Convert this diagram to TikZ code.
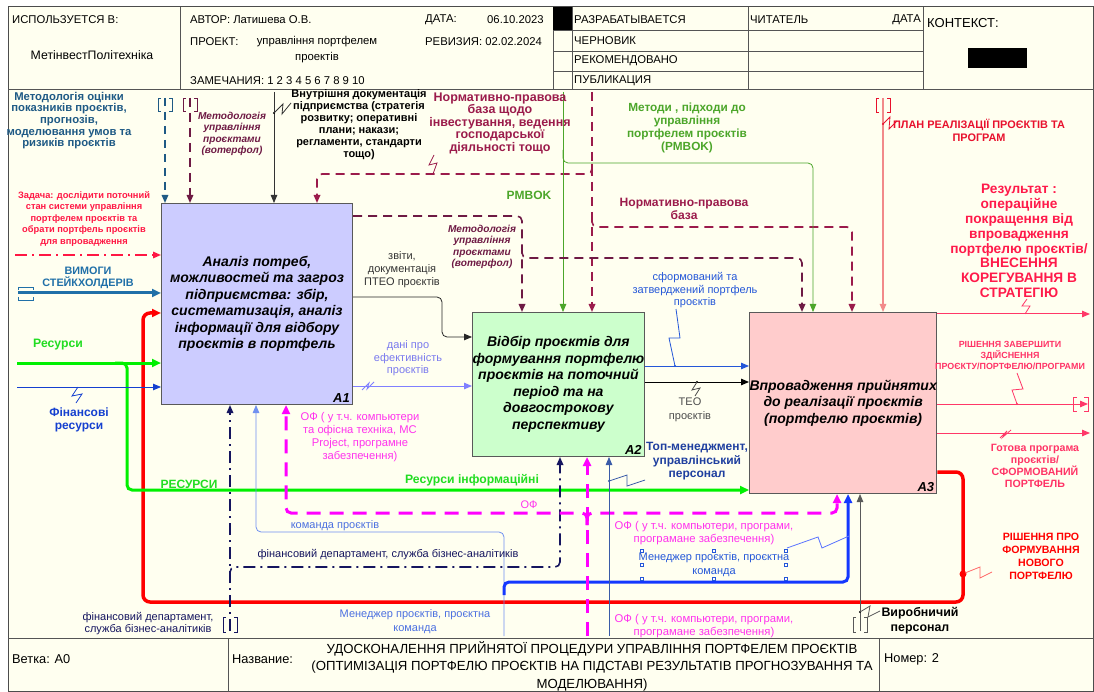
\documentclass[tikz,border=0pt]{standalone}
\usepackage{fontspec}
\setmainfont{Liberation Sans}
\usetikzlibrary{arrows.meta}
\newcommand\fsz[2]{\fontsize{#1}{#2}\selectfont}
\definecolor{cream}{HTML}{FFFFF0}
\definecolor{fillA}{HTML}{CCCCFF}
\definecolor{fillB}{HTML}{CCFFCC}
\definecolor{fillC}{HTML}{FFCCCC}
\definecolor{stb}{HTML}{1F5A85}
\definecolor{mar}{HTML}{6E1A44}
\definecolor{crim}{HTML}{9B1B4B}
\definecolor{grn}{HTML}{4CA62A}
\definecolor{salm}{HTML}{F28A8A}
\definecolor{planred}{HTML}{E8112D}
\definecolor{redt}{HTML}{FF1744}
\definecolor{stbl}{HTML}{2070A8}
\definecolor{lime}{HTML}{00F000}
\definecolor{limet}{HTML}{22DD22}
\definecolor{fblue}{HTML}{1540D0}
\definecolor{navy}{HTML}{15155F}
\definecolor{lblue}{HTML}{7090F0}
\definecolor{lbluet}{HTML}{4C70E0}
\definecolor{mag}{HTML}{FF00FF}
\definecolor{magt}{HTML}{FF33EE}
\definecolor{bthick}{HTML}{1438FF}
\definecolor{tmb}{HTML}{3A5BA8}
\definecolor{tmt}{HTML}{1F3F9F}
\definecolor{lpur}{HTML}{8080FF}
\definecolor{lpurt}{HTML}{7A7AEE}
\definecolor{sblue}{HTML}{2457D8}
\definecolor{pk}{HTML}{FF3868}
\definecolor{rest}{HTML}{FF1A4A}
\definecolor{pk2}{HTML}{FF3366}
\definecolor{rthick}{HTML}{FF0000}
\definecolor{hdl}{HTML}{555555}
\begin{document}
\begin{tikzpicture}[x=1pt,y=-1pt,
  ar/.style={-{Triangle[length=8pt,width=6.5pt]}},
  art/.style={-{Triangle[length=9pt,width=8pt]}},
  lb/.style={inner sep=0pt, align=center},
  hd/.style={inner sep=0pt, anchor=west, font=\fsz{11.3}{12}},
  ln/.style={line width=0.8pt},
  tk/.style={line width=3pt},
  dsh/.style={dash pattern=on 9pt off 6pt},
  ddt/.style={dash pattern=on 12pt off 5pt on 2pt off 5pt},
  mdsh/.style={dash pattern=on 14pt off 9pt},
  box/.style={draw=black!65, line width=1pt, anchor=north west, inner sep=0pt, align=center, font=\bfseries\itshape\fsz{14}{16.5}},
  bid/.style={inner sep=0pt, anchor=south east, font=\bfseries\itshape\fsz{13}{15}},
  gl/.style={hdl, line width=0.8pt},
  rc/.style={rounded corners=5pt},
  ft/.style={inner sep=0pt, anchor=west, font=\fsz{12.8}{14}},
]
\useasboundingbox (0,0) rectangle (1094,692);
\fill[white] (0,0) rectangle (1094,692);
\fill[cream] (8,7) rectangle (1094,692);
\draw[gray!60!black, line width=1pt] (8,7) rectangle (1093.5,691.5);

% ---------- header ----------
\draw[gl] (8,89) -- (1094,89);
\draw[gl] (180,7) -- (180,89);
\draw[gl] (553,7) -- (553,89);
\draw[gl] (572,7) -- (572,89);
\draw[gl] (748,7) -- (748,89);
\draw[gl] (923,7) -- (923,89);
\draw[gl] (553,30) -- (923,30);
\draw[gl] (553,51) -- (923,51);
\draw[gl] (553,71) -- (923,71);
\fill[black] (553,7) rectangle (572,30);
\node[hd] (h1) at (12,20) {ИСПОЛЬЗУЕТСЯ В:};
\node[lb, font=\fsz{12.3}{12}] (h2) at (92,55) {МетінвестПолітехніка};
\node[hd] (h3) at (190,20) {АВТОР: Латишева О.В.};
\node[hd] (h4) at (425,20) {ДАТА:};
\node[hd] (h5) at (487,20) {06.10.2023};
\node[hd] (h6) at (190,42) {ПРОЕКТ:};
\node[lb, font=\fsz{11.3}{16}] (h7) at (317,50) {управління портфелем\\проектів};
\node[hd] (h8) at (425,42) {РЕВИЗИЯ: 02.02.2024};
\node[hd] (h9) at (190,81) {ЗАМЕЧАНИЯ: 1 2 3 4 5 6 7 8 9 10};
\node[hd] (h10) at (574,20) {РАЗРАБАТЫВАЕТСЯ};
\node[hd] (h11) at (574,41) {ЧЕРНОВИК};
\node[hd] (h12) at (574,61) {РЕКОМЕНДОВАНО};
\node[hd] (h13) at (574,81) {ПУБЛИКАЦИЯ};
\node[hd] (h14) at (750,20) {ЧИТАТЕЛЬ};
\node[hd, anchor=east] (h15) at (921,20) {ДАТА};
\node[hd, font=\fsz{13}{14}] (h16) at (927,23) {КОНТЕКСТ:};
\fill[black] (968,48) rectangle (1027,68);

% ---------- footer ----------
\draw[gl] (8,638) -- (1094,638);
\draw[gl] (228,638) -- (228,692);
\draw[gl] (879,638) -- (879,692);
\node[ft] (f1) at (12,659) {Ветка: А0};
\node[ft] (f2) at (232,659) {Название:};
\node[lb, font=\fsz{13.2}{17.5}] (f3) at (592,666) {УДОСКОНАЛЕННЯ ПРИЙНЯТОЇ ПРОЦЕДУРИ УПРАВЛІННЯ ПОРТФЕЛЕМ ПРОЄКТІВ\\(ОПТИМІЗАЦІЯ ПОРТФЕЛЮ ПРОЄКТІВ НА ПІДСТАВІ РЕЗУЛЬТАТІВ ПРОГНОЗУВАННЯ ТА\\МОДЕЛЮВАННЯ)};
\node[ft] (f4) at (884,659) {Номер: 2};

% ---------- boxes ----------
\node[box, fill=fillA, minimum width=191pt, minimum height=201pt] (A1) at (161,203)
  {Аналіз потреб,\\можливостей та загроз\\підприємства: збір,\\систематизація, аналіз\\інформації для відбору\\проєктів в портфель};
\node[bid] (A1id) at ([xshift=-3pt,yshift=2pt]A1.south east) {A1};
\node[box, fill=fillB, minimum width=169pt, minimum height=144pt] (A2) at (472,312)
  {Відбір проєктів для\\формування портфелю\\проєктів на поточний\\період та на\\довгостроковy\\перспективу};
\node[bid] (A2id) at ([xshift=-3pt,yshift=2pt]A2.south east) {A2};
\node[box, fill=fillC, minimum width=180pt, minimum height=181pt] (A3) at (749,312)
  {Впровадження прийнятих\\до реалізації проєктів\\(портфелю проєктів)};
\node[bid] (A3id) at ([xshift=-3pt,yshift=2pt]A3.south east) {A3};

% ---------- coordinates of free ends ----------
\coordinate (c1) at (165,98);
\coordinate (c2) at (190,98);
\coordinate (c3) at (274,92);
\coordinate (c4) at (592,92);
\coordinate (c5) at (563,92);
\coordinate (c6) at (883,98);
\coordinate (i1) at (15,255);
\coordinate (i2) at (18,293);
\coordinate (i3) at (17,363);
\coordinate (i4) at (17,387);
\coordinate (m1) at (230,631);
\coordinate (m2) at (504,636);
\coordinate (m3) at (587,636);
\coordinate (m4) at (609,636);
\coordinate (m5) at (860,631);
\coordinate (o1) at (1090,314);
\coordinate (o2) at (1088,404);
\coordinate (o3) at (1090,433);

% ---------- controls (top) ----------
\draw[stb, line width=1.6pt, dash pattern=on 8pt off 6pt, ar] (c1) -- (165,0 |- A1.north);
\draw[stb, ln] (161,98) -- (158,98) -- (158,111) -- (161,111) (169,98) -- (172,98) -- (172,111) -- (169,111);
\draw[mar, line width=1.6pt, dsh, ar] (c2) -- (190,0 |- A1.north);
\draw[mar, ln] (186,98) -- (183,98) -- (183,111) -- (186,111) (194,98) -- (197,98) -- (197,111) -- (194,111);
\draw[black!80, ln, ar] (c3) -- (274,0 |- A1.north);
\fill[black] (274,113) circle (1.2);
\draw[black!80, ln] (274,113) -- (283,104) -- (282,114) -- (291,103);
\draw[crim, line width=1.6pt, dsh, ar] (c4) -- (592,0 |- A2.north);
\draw[crim, line width=1.6pt, dsh, rc, ar] (592,164) -- (592,174) -- (317,174) -- (317,0 |- A1.north);
\draw[crim, line width=1.6pt, dsh, rc, ar] (592,217) -- (592,227) -- (852,227) -- (852,0 |- A3.north);
\draw[crim, ln] (433,174) -- (437,163) -- (429,165) -- (434,155);
\draw[grn, ln, ar] (c5) -- (563,0 |- A2.north);
\draw[grn, ln, rc, ar] (563,150) -- (563,163) -- (813,163) -- (813,0 |- A3.north);
\draw[mar, line width=1.6pt, dsh, rc, ar] (A1.east |- 0,216) -- (522,216) -- (522,0 |- A2.north);
\draw[mar, line width=1.6pt, dsh, rc, ar] (522,248) -- (522,258) -- (802,258) -- (802,0 |- A3.north);
\draw[salm, line width=1.1pt, ar] (c6) -- (883,0 |- A3.north);
\draw[planred, ln] (879,98) -- (876,98) -- (876,112) -- (879,112) (887,98) -- (890,98) -- (890,112) -- (887,112);
\fill[planred] (883,124) circle (1.2);
\draw[planred, ln] (883,124) -- (890,117) -- (889,129) -- (897,121);

% ---------- inputs (left) ----------
\draw[redt, line width=1.6pt, ddt, ar] (i1) -- (A1.west |- i1);
\draw[stbl, tk, art] (i2) -- (A1.west |- i2);
\draw[stbl, ln] (18,290) -- (18,287) -- (33,287) -- (33,290) (18,297) -- (18,300) -- (33,300) -- (33,297);
\draw[rthick, line width=3.5pt, rounded corners=7pt, art] (A3.east |- 0,472) -- (963,472) -- (963,602) -- (143,602) -- (143,313) -- (A1.west |- 0,313);
\fill[rthick] (963,574) circle (3.5);
\draw[rthick!60, ln] (965,573) -- (980,567) -- (980,578) -- (992,572);
\draw[lime, tk, art] (i3) -- (A1.west |- i3);
\draw[lime, tk, rc, art] (115,363) -- (127,363) -- (127,490) -- (A3.west |- 0,490);
\draw[fblue, ln, ar] (i4) -- (A1.west |- i4);
\draw[fblue, ln] (78,387) -- (72,396) -- (82,394) -- (76,403);

% ---------- mechanisms (bottom) ----------
\draw[navy, line width=1.6pt, ddt, ar] (m1) -- (230,0 |- A1.south);
\draw[navy, line width=1.6pt, ddt, rc, ar] (230,580) -- (230,567) -- (560,567) -- (560,0 |- A2.south);
\draw[navy, ln] (226,617) -- (223,617) -- (223,632) -- (226,632) (234,617) -- (237,617) -- (237,632) -- (234,632);
\draw[lblue, ln, rc, ar] (m2) -- (504,532) -- (256,532) -- (256,0 |- A1.south);
\draw[bthick, tk, rc, art] (504,595) -- (504,582) -- (848,582) -- (848,0 |- A3.south);
\draw[bthick!70, ln] (849,536) -- (822,548) -- (818,537) -- (787,548);
\draw[mag, tk, mdsh, art] (m3) -- (587,0 |- A2.south);
\draw[mag, tk, mdsh, rc, art] (587,525) -- (587,513) -- (286,513) -- (286,0 |- A1.south);
\draw[mag, tk, mdsh, rc, art] (587,525) -- (587,513) -- (837,513) -- (837,0 |- A3.south);
\draw[tmb, ln, ar] (m4) -- (609,0 |- A2.south);
\fill[tmb] (609,481) circle (1.2);
\draw[tmb, ln] (609,481) -- (627,475) -- (627,486) -- (645,480);
\draw[black!65, ln, ar] (m5) -- (860,0 |- A3.south);
\draw[black!65, ln] (856,617) -- (853,617) -- (853,632) -- (856,632) (864,617) -- (867,617) -- (867,632) -- (864,632);
\fill[black] (860,612) circle (1.2);
\draw[black!65, ln] (860,612) -- (870,606) -- (868,617) -- (880,611);

% ---------- box to box ----------
\draw[black!85, ln, rc, ar] (A1.east |- 0,297) -- (442,297) -- (442,337) -- (A2.west |- 0,337);
\draw[lpur, line width=1pt, ar] (A1.east |- 0,386) -- (A2.west |- 0,386);
\draw[lpur, ln] (362,390) -- (369,383) -- (367,389) -- (374,382);
\draw[sblue, line width=1pt, ar] (A2.east |- 0,366) -- (A3.west |- 0,366);
\fill[sblue] (675,366) circle (1.2);
\draw[sblue, ln] (675,366) -- (669,338) -- (680,338) -- (676,309);
\draw[black, line width=1pt, ar] (A2.east |- 0,382) -- (A3.west |- 0,382);
\fill[black] (697,382) circle (1.2);
\draw[black!70, ln] (697,382) -- (692,390) -- (700,388) -- (695,396);

% ---------- outputs ----------
\draw[pk, line width=1pt, ar] (A3.east |- o1) -- (o1);
\draw[pk, ln] (1025,314) -- (1030,306) -- (1022,306) -- (1027,299);
\draw[pk, line width=1pt, ar] (A3.east |- o2) -- (o2);
\draw[pk, ln] (1077,397) -- (1073,397) -- (1073,411) -- (1077,411) (1084,397) -- (1088,397) -- (1088,411) -- (1084,411);
\fill[pk] (1017,404) circle (1.2);
\draw[pk, ln] (1017,404) -- (1012,390) -- (1023,389) -- (1017,373);
\draw[pk, line width=1pt, ar] (A3.east |- o3) -- (o3);
\draw[pk, ln] (1000,438) -- (1007,431) -- (1003,437) -- (1011,430);

% ---------- labels ----------
\node[lb, stb, font=\bfseries\fsz{11.3}{11.7}] (l1) at (69,120.5) {Методологія оцінки\\показників проєктів,\\прогнозів,\\моделювання умов та\\ризиків проєктів};
\node[lb, mar, font=\bfseries\itshape\fsz{10.1}{11.3}] (l2) at (232,134) {Методологія\\управління\\проєктами\\(вотерфол)};
\node[lb, black, font=\bfseries\fsz{11}{12}] (l3) at (359,125) {Внутрішня документація\\підприємства (стратегія\\розвитку; оперативні\\плани; накази;\\регламенти, стандарти\\тощо)};
\node[lb, crim, font=\bfseries\fsz{12.5}{12.5}] (l4) at (500,123) {Нормативно-правова\\база щодо\\інвестування, ведення\\господарської\\діяльності тощо};
\node[lb, grn, font=\bfseries\fsz{12}{13}] (l5) at (529,195) {PMBOK};
\node[lb, grn, font=\bfseries\fsz{11.8}{13.3}] (l6) at (687,128) {Методи , підходи до\\управління\\портфелем проєктів\\(PMBOK)};
\node[lb, crim, font=\bfseries\fsz{12.1}{13}] (l7) at (684,208.5) {Нормативно-правова\\база};
\node[lb, planred, font=\bfseries\fsz{10.9}{13}] (l8) at (979,130.5) {ПЛАН РЕАЛІЗАЦІЇ ПРОЄКТІВ ТА\\ПРОГРАМ};
\node[lb, mar, font=\bfseries\itshape\fsz{10.1}{11.3}] (l9) at (482,247) {Методологія\\управління\\проєктами\\(вотерфол)};
\node[lb, redt, font=\bfseries\fsz{9.3}{11.5}] (l10) at (84,219) {Задача: дослідити поточний\\стан системи управління\\портфелем проєктів та\\обрати портфель проєктів\\для впровадження};
\node[lb, stbl, font=\bfseries\fsz{10.8}{12}] (l11) at (88,278) {ВИМОГИ\\СТЕЙКХОЛДЕРІВ};
\node[lb, limet, font=\bfseries\fsz{12.2}{13}] (l12) at (58,345) {Ресурси};
\node[lb, fblue, font=\bfseries\fsz{12}{13}] (l13) at (79,419.5) {Фінансові\\ресурси};
\node[lb, black!80, font=\fsz{11}{13}] (l14) at (402,270) {звіти,\\документація\\ПТЕО проєктів};
\node[lb, lpurt, font=\fsz{11}{12.5}] (l15) at (408,358.5) {дані про\\ефективність\\проєктів};
\node[lb, sblue, font=\fsz{11}{12.5}] (l16) at (695,290.5) {сформований та\\затверджений портфель\\проєктів};
\node[lb, black!70, font=\fsz{11}{14}] (l17) at (690,410) {ТЕО\\проєктів};
\node[lb, rest, font=\bfseries\fsz{13.7}{14.9}] (l18) at (1019,241) {Результат :\\операційне\\покращення від\\впровадження\\портфелю проєктів/\\ВНЕСЕННЯ\\КОРЕГУВАННЯ В\\СТРАТЕГІЮ};
\node[lb, pk2, font=\bfseries\fsz{8.9}{11}] (l19) at (1010,355) {РІШЕННЯ ЗАВЕРШИТИ\\ЗДІЙСНЕННЯ\\ПРОЄКТУ/ПОРТФЕЛЮ/ПРОГРАМИ};
\node[lb, pk2, font=\bfseries\fsz{10.6}{12}] (l20) at (1035,466) {Готова програма\\проєктів/\\СФОРМОВАНИЙ\\ПОРТФЕЛЬ};
\node[lb, rthick, font=\bfseries\fsz{10.6}{13}] (l21) at (1041,556.5) {РІШЕННЯ ПРО\\ФОРМУВАННЯ\\НОВОГО\\ПОРТФЕЛЮ};
\node[lb, limet, font=\bfseries\fsz{12}{13}] (l22) at (189,484) {РЕСУРСИ};
\node[lb, limet, font=\bfseries\fsz{12.2}{13}] (l23) at (472,480) {Ресурси інформаційні};
\node[lb, magt, font=\fsz{11.2}{13}] (l24) at (360,437.5) {ОФ ( у т.ч. компьютери\\та офісна техніка, MC\\Project, програмне\\забезпечення)};
\node[lb, magt, font=\fsz{11}{13}] (l25) at (529,505) {ОФ};
\node[lb, lbluet, font=\fsz{11}{13}] (l26) at (335,526) {команда проєктів};
\node[lb, navy, font=\fsz{11}{13}] (l27) at (388,555) {фінансовий департамент, служба бізнес-аналітиків};
\node[lb, navy, font=\fsz{11}{12}] (l28) at (148,624) {фінансовий департамент,\\служба бізнес-аналітиків};
\node[lb, lbluet, font=\fsz{11}{14}] (l29) at (415,622) {Менеджер проєктів, проєктна\\команда};
\node[lb, magt, font=\fsz{11.3}{13}] (l30) at (704,533.5) {ОФ ( у т.ч. компьютери, програми,\\програмане забезпечення)};
\node[lb, magt, font=\fsz{11.3}{13}] (l31) at (704,626.5) {ОФ ( у т.ч. компьютери, програми,\\програмане забезпечення)};
\node[lb, sblue, font=\fsz{11}{14}] (l32) at (714,565) {Менеджер проєктів, проєктна\\команда};
\foreach \hx/\hy in {642/551,714/551,786/551,642/565,786/565,642/579,714/579,786/579}
  \draw[sblue, line width=0.6pt, fill=white] (\hx-1.7,\hy-1.7) rectangle (\hx+1.7,\hy+1.7);
\node[lb, tmt, font=\bfseries\fsz{12}{13.5}] (l33) at (697,461.5) {Топ-менеджмент,\\управлінський\\персонал};
\node[lb, black, font=\bfseries\fsz{12.4}{15}] (l34) at (920,620.5) {Виробничий\\персонал};
\end{tikzpicture}
\end{document}
